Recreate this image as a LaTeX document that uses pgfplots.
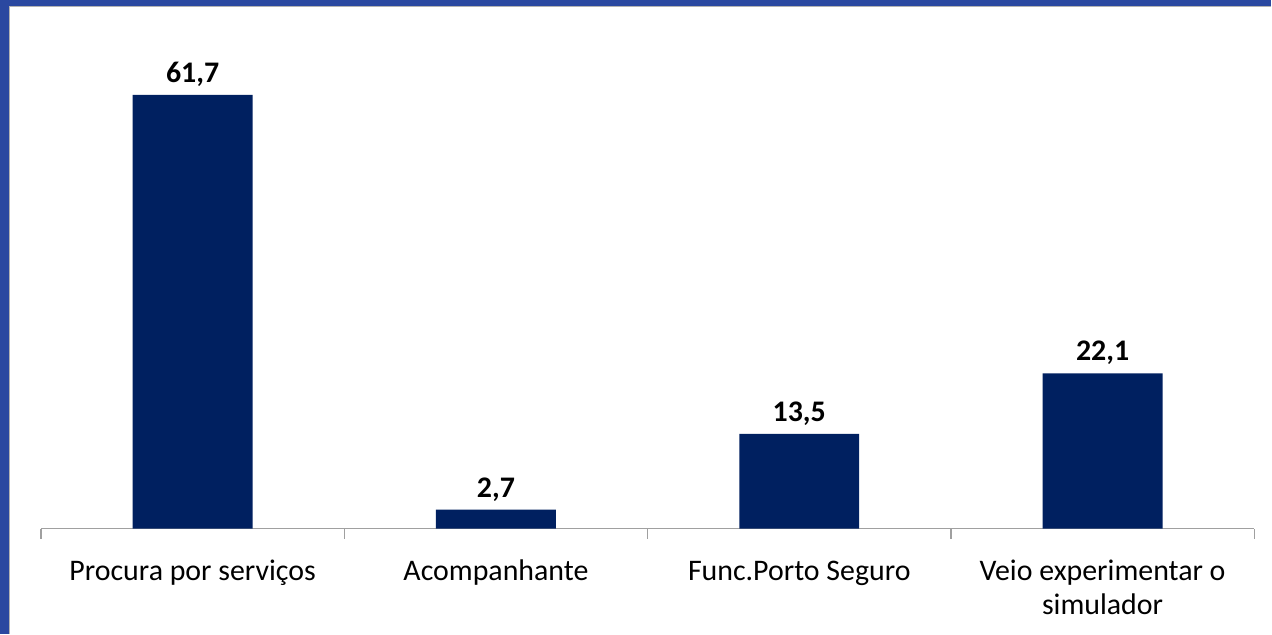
\documentclass[border=0pt]{standalone}
\usepackage{fontspec}
\setmainfont{Carlito}
\usepackage{pgfplots}
\pgfplotsset{compat=1.18}
\definecolor{barblue}{RGB}{0,32,96}
\definecolor{frameblue}{RGB}{42,72,160}
\definecolor{axgray}{RGB}{160,160,160}
\begin{document}
\begin{tikzpicture}[x=1bp,y=1bp]
\fill[frameblue] (0,0) rectangle (1272,634);
\fill[white] (9,0) rectangle (1272,628);
\draw[gray!60,line width=1.5bp] (9.75,0) -- (9.75,627.25) -- (1272,627.25);
\useasboundingbox (0,0) rectangle (1272,634);
\begin{axis}[
  at={(41bp,105bp)}, anchor=south west,
  scale only axis,
  width=1214bp, height=492.4bp,
  xmin=-0.5, xmax=3.5, ymin=0, ymax=70,
  axis y line=none,
  axis x line*=bottom,
  x axis line style={axgray, line width=1.2bp, -},
  xtick={-0.5,0.5,1.5,2.5,3.5},
  xticklabels={},
  major tick length=10bp,
  tick align=outside,
  x tick style={axgray, line width=1.2bp},
  extra x ticks={0,1,2,3},
  extra x tick labels={\strut Procura por serviços, \strut Acompanhante, \strut Func.Porto Seguro, {\strut Veio experimentar o\\simulador}},
  extra x tick style={major tick length=0pt, xticklabel style={align=center, font=\fontsize{30}{34}\selectfont, yshift=-25bp}},
  ybar, bar width=120bp,
  nodes near coords,
  nodes near coords style={font=\bfseries\fontsize{30}{34}\selectfont, yshift=5bp, /pgf/number format/fixed, /pgf/number format/fixed zerofill, /pgf/number format/precision=1, /pgf/number format/use comma, /pgf/number format/assume math mode=true},
  clip=false,
]
\addplot[fill=barblue, draw=none] coordinates {(0,61.7) (1,2.7) (2,13.5) (3,22.1)};
\end{axis}
\end{tikzpicture}
\end{document}
